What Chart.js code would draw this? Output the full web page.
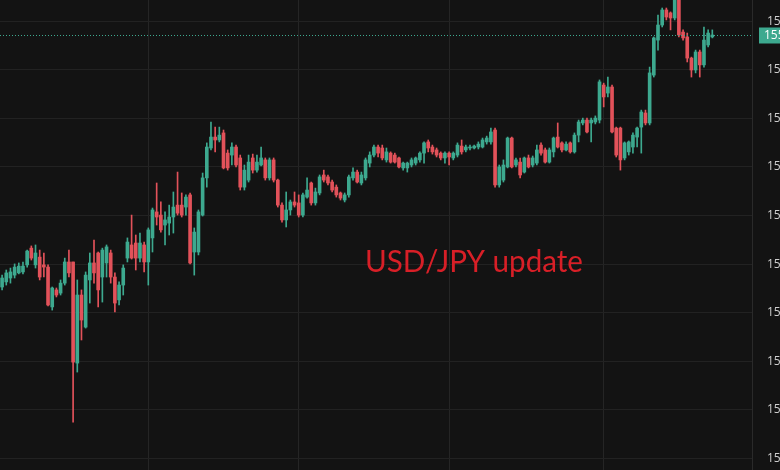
<!DOCTYPE html>
<html>
<head>
<meta charset="utf-8">
<title>USD/JPY update</title>
<script src="https://cdn.jsdelivr.net/npm/chart.js@4.4.1/dist/chart.umd.min.js"></script>
<style>
html, body { margin: 0; padding: 0; background: #131313; }
#wrap { width: 780px; height: 470px; position: relative; }
</style>
</head>
<body>
<div id="wrap"><canvas id="myChart"></canvas></div>
<script>
/*
 *  Candle data (OHLC), oldest first
 */
var opens = [
    154.706, 154.727, 154.743, 154.755, 154.764, 154.768, 154.797, 154.866, 154.797, 154.829,
    154.797, 154.788, 154.624, 154.694, 154.681, 154.722, 154.809, 154.809, 154.393, 154.673,
    154.541, 154.735, 154.805, 154.846, 154.747, 154.805, 154.846, 154.747, 154.653, 154.714,
    154.825, 154.879, 154.887, 154.825, 154.879, 154.809, 154.908, 155.015, 155.002, 154.961,
    154.969, 154.994, 155.043, 155.043, 155.035, 155.085, 154.850, 154.850, 155.002, 155.155,
    155.278, 155.323, 155.311, 155.340, 155.257, 155.249, 155.282, 155.237, 155.117, 155.146,
    155.237, 155.187, 155.208, 155.229, 155.155, 155.229, 155.146, 155.043, 154.982, 155.023,
    155.056, 155.052, 155.002, 155.076, 155.134, 155.052, 155.093, 155.167, 155.159, 155.138,
    155.117, 155.093, 155.064, 155.085, 155.155, 155.179, 155.134, 155.155, 155.216, 155.249,
    155.282, 155.278, 155.229, 155.257, 155.249, 155.237, 155.196, 155.196, 155.208, 155.216,
    155.229, 155.257, 155.303, 155.282, 155.270, 155.257, 155.237, 155.257, 155.237, 155.249,
    155.286, 155.270, 155.278, 155.278, 155.282, 155.282, 155.303, 155.303, 155.352, 155.126,
    155.146, 155.200, 155.319, 155.208, 155.220, 155.179, 155.237, 155.208, 155.216, 155.290,
    155.270, 155.220, 155.262, 155.323, 155.299, 155.270, 155.299, 155.262, 155.331, 155.381,
    155.393, 155.381, 155.385, 155.393, 155.537, 155.504, 155.529, 155.360, 155.360, 155.237,
    155.262, 155.282, 155.323, 155.364, 155.422, 155.381, 155.578, 155.722, 155.784, 155.846,
    155.834, 155.813, 155.899, 155.755, 155.735, 155.648, 155.599, 155.673, 155.620, 155.702,
    155.735
];
var highs = [
    154.755, 154.776, 154.784, 154.801, 154.805, 154.809, 154.858, 154.875, 154.879, 154.858,
    154.846, 154.797, 154.706, 154.702, 154.735, 154.825, 154.858, 154.809, 154.735, 154.694,
    154.768, 154.846, 154.899, 154.850, 154.866, 154.879, 154.858, 154.764, 154.727, 154.797,
    154.908, 155.002, 154.920, 154.928, 154.891, 154.949, 155.031, 155.134, 155.056, 155.015,
    155.043, 155.097, 155.179, 155.093, 155.085, 155.093, 154.949, 155.023, 155.175, 155.299,
    155.385, 155.364, 155.364, 155.352, 155.270, 155.299, 155.290, 155.249, 155.208, 155.249,
    155.253, 155.249, 155.282, 155.237, 155.237, 155.237, 155.150, 155.052, 155.097, 155.064,
    155.097, 155.085, 155.093, 155.155, 155.138, 155.113, 155.167, 155.187, 155.167, 155.146,
    155.126, 155.097, 155.093, 155.167, 155.196, 155.187, 155.179, 155.237, 155.262, 155.290,
    155.290, 155.290, 155.278, 155.262, 155.257, 155.241, 155.220, 155.220, 155.237, 155.241,
    155.262, 155.303, 155.311, 155.290, 155.278, 155.262, 155.262, 155.262, 155.262, 155.299,
    155.311, 155.290, 155.290, 155.290, 155.303, 155.319, 155.327, 155.360, 155.360, 155.208,
    155.229, 155.323, 155.323, 155.237, 155.237, 155.241, 155.249, 155.245, 155.290, 155.299,
    155.278, 155.278, 155.323, 155.381, 155.303, 155.303, 155.303, 155.340, 155.393, 155.401,
    155.401, 155.401, 155.410, 155.558, 155.545, 155.570, 155.537, 155.364, 155.364, 155.303,
    155.307, 155.340, 155.364, 155.434, 155.434, 155.611, 155.735, 155.825, 155.854, 155.854,
    155.838, 155.920, 155.920, 155.764, 155.751, 155.652, 155.681, 155.681, 155.776, 155.764,
    155.764
];
var lows = [
    154.694, 154.714, 154.722, 154.743, 154.760, 154.760, 154.788, 154.817, 154.784, 154.735,
    154.747, 154.628, 154.611, 154.665, 154.673, 154.714, 154.747, 154.150, 154.356, 154.488,
    154.537, 154.640, 154.722, 154.624, 154.644, 154.747, 154.722, 154.603, 154.632, 154.673,
    154.809, 154.821, 154.776, 154.809, 154.768, 154.714, 154.850, 154.961, 154.932, 154.879,
    154.920, 154.928, 155.002, 154.994, 155.002, 154.801, 154.755, 154.838, 154.998, 155.117,
    155.270, 155.262, 155.303, 155.192, 155.187, 155.208, 155.200, 155.105, 155.105, 155.138,
    155.175, 155.179, 155.204, 155.146, 155.146, 155.138, 155.035, 154.973, 154.953, 155.002,
    155.035, 154.994, 154.994, 155.072, 155.043, 155.043, 155.085, 155.138, 155.126, 155.097,
    155.076, 155.064, 155.056, 155.076, 155.146, 155.134, 155.126, 155.146, 155.200, 155.241,
    155.241, 155.229, 155.220, 155.216, 155.216, 155.196, 155.187, 155.179, 155.200, 155.208,
    155.220, 155.216, 155.262, 155.253, 155.241, 155.229, 155.216, 155.208, 155.229, 155.241,
    155.253, 155.262, 155.270, 155.274, 155.274, 155.278, 155.294, 155.294, 155.117, 155.117,
    155.138, 155.196, 155.196, 155.200, 155.155, 155.175, 155.196, 155.200, 155.208, 155.249,
    155.216, 155.216, 155.241, 155.278, 155.262, 155.266, 155.257, 155.257, 155.303, 155.373,
    155.340, 155.303, 155.377, 155.381, 155.447, 155.488, 155.340, 155.241, 155.187, 155.229,
    155.249, 155.257, 155.282, 155.257, 155.373, 155.373, 155.570, 155.681, 155.776, 155.805,
    155.764, 155.805, 155.735, 155.722, 155.632, 155.570, 155.587, 155.570, 155.611, 155.694,
    155.731
];
var closes = [
    154.743, 154.764, 154.768, 154.788, 154.792, 154.792, 154.854, 154.825, 154.846, 154.747,
    154.788, 154.632, 154.702, 154.673, 154.722, 154.809, 154.764, 154.397, 154.673, 154.570,
    154.755, 154.805, 154.764, 154.694, 154.858, 154.871, 154.747, 154.640, 154.714, 154.784,
    154.891, 154.825, 154.825, 154.887, 154.809, 154.941, 155.023, 154.994, 154.941, 154.982,
    154.994, 155.035, 155.010, 155.002, 155.076, 154.805, 154.932, 155.015, 155.155, 155.282,
    155.323, 155.311, 155.331, 155.196, 155.196, 155.282, 155.208, 155.117, 155.187, 155.220,
    155.187, 155.220, 155.237, 155.155, 155.229, 155.146, 155.043, 154.982, 155.023, 155.056,
    155.043, 155.002, 155.085, 155.105, 155.052, 155.097, 155.159, 155.146, 155.134, 155.105,
    155.085, 155.072, 155.085, 155.159, 155.179, 155.138, 155.167, 155.229, 155.249, 155.282,
    155.257, 155.237, 155.262, 155.220, 155.220, 155.200, 155.216, 155.216, 155.229, 155.237,
    155.257, 155.299, 155.278, 155.262, 155.249, 155.237, 155.257, 155.241, 155.257, 155.290,
    155.262, 155.282, 155.282, 155.286, 155.294, 155.311, 155.319, 155.344, 155.126, 155.200,
    155.208, 155.319, 155.200, 155.229, 155.167, 155.237, 155.200, 155.237, 155.270, 155.257,
    155.220, 155.270, 155.319, 155.282, 155.270, 155.294, 155.262, 155.331, 155.385, 155.393,
    155.344, 155.393, 155.401, 155.550, 155.488, 155.529, 155.344, 155.249, 155.229, 155.299,
    155.303, 155.331, 155.360, 155.426, 155.381, 155.587, 155.731, 155.784, 155.846, 155.817,
    155.813, 155.899, 155.743, 155.731, 155.648, 155.599, 155.673, 155.620, 155.722, 155.751,
    155.743
];
// price scale labels
var yTicks = [154.0, 154.2, 154.4, 154.6, 154.8, 155.0, 155.2, 155.4, 155.6, 155.8];
// candles where the time grid lines sit
var timeLines = [35, 71, 107, 144];
var slotCount = 180;
var title = "USD/JPY update";

var upColor = "#3da98f";
var downColor = "#e2525a";

var labels = [];
for (var i = 0; i < slotCount; i++) labels.push(String(i));

var bodies = opens.map(function(o, i) { return [o, closes[i]]; });
var wicks = lows.map(function(l, i) { return [l, highs[i]]; });
var colors = opens.map(function(o, i) { return closes[i] >= o ? upColor : downColor; });
var lastPrice = closes[closes.length - 1];

var overlay = {
    id: "overlay",
    afterDraw: function(chart) {
        var ctx = chart.ctx;
        var area = chart.chartArea;
        var y = Math.round(chart.scales.y.getPixelForValue(lastPrice)) + 0.5;
        ctx.save();
        // last price line
        ctx.strokeStyle = upColor;
        ctx.lineWidth = 1;
        ctx.setLineDash([1, 2]);
        ctx.beginPath();
        ctx.moveTo(area.left, y);
        ctx.lineTo(area.right, y);
        ctx.stroke();
        ctx.setLineDash([]);
        // last price tag
        ctx.fillStyle = upColor;
        ctx.fillRect(area.right + 7, y - 8, 40, 16);
        ctx.fillStyle = "#ffffff";
        ctx.font = "12px 'Open Sans'";
        ctx.textBaseline = "middle";
        ctx.fillText(lastPrice.toFixed(3), area.right + 12, y);
        // caption, squeezed to the width it has in the picture
        ctx.fillStyle = "#d81f27";
        ctx.font = "31px Lato";
        ctx.textBaseline = "alphabetic";
        var w = ctx.measureText(title).width;
        ctx.translate(365, 272);
        ctx.scale(218 / w, 1);
        ctx.fillText(title, 0, 0);
        ctx.restore();
    }
};

var chart = new Chart(document.getElementById("myChart").getContext("2d"), {
    type: "bar",
    data: {
        labels: labels,
        datasets: [
            {
                label: "wick",
                data: wicks,
                backgroundColor: colors,
                barThickness: 1,
                grouped: false,
                order: 2
            },
            {
                label: "body",
                data: bodies,
                backgroundColor: colors,
                barThickness: 3,
                minBarLength: 1,
                grouped: false,
                order: 1
            }
        ]
    },
    options: {
        responsive: true,
        maintainAspectRatio: false,
        animation: false,
        layout: { padding: 0 },
        plugins: {
            legend: { display: false },
            tooltip: { enabled: false }
        },
        scales: {
            x: {
                offset: true,
                ticks: { display: false, autoSkip: false },
                border: { display: false },
                grid: {
                    offset: false,
                    drawTicks: false,
                    color: function(c) {
                        return timeLines.indexOf(c.index) >= 0 ? "#252525" : "rgba(0,0,0,0)";
                    }
                }
            },
            y: {
                position: "right",
                min: 153.953,
                max: 155.887,
                afterBuildTicks: function(scale) {
                    scale.ticks = yTicks.map(function(v) { return { value: v }; });
                },
                afterFit: function(scale) {
                    // fixed narrow price column, labels run off the canvas edge
                    scale.width = 28;
                    scale.paddingTop = 0;
                    scale.paddingBottom = 0;
                },
                ticks: {
                    padding: 15,
                    color: "#cfcfcf",
                    font: { size: 12, family: "'Open Sans'" },
                    callback: function(v) { return Number(v).toFixed(3); }
                },
                border: { display: true, color: "#2a2a2a" },
                grid: { color: "#222222", drawTicks: false }
            }
        }
    },
    plugins: [overlay]
});
</script>
</body>
</html>
